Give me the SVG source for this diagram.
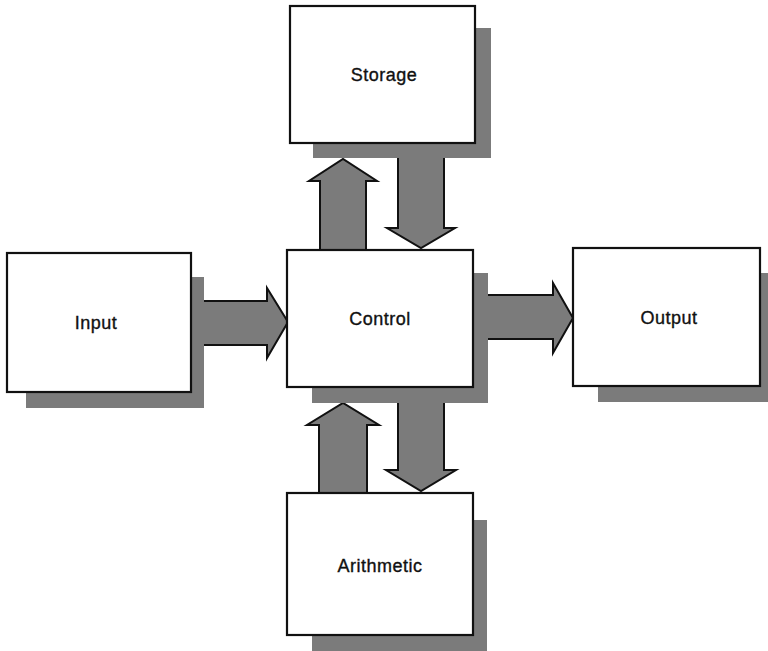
<svg xmlns="http://www.w3.org/2000/svg" width="768" height="651" viewBox="0 0 768 651">
<style>
.arrow{fill:#7b7b7b;stroke:#111;stroke-width:2;stroke-linejoin:miter}
.shadow{fill:#7b7b7b}
.box{fill:#fff;stroke:#111;stroke-width:2.2}
.label{font-family:"Liberation Sans",Arial,sans-serif;font-size:18px;fill:#111;stroke:#111;stroke-width:0.35;text-anchor:middle;letter-spacing:0.5px}
</style>
<rect width="768" height="651" fill="#fff"/>
<g id="connectors">
<polygon class="arrow" points="200,301 267,301 267,288 288,322 267,358 267,345 200,345"/>
<polygon class="arrow" points="480,295 553,295 553,283 573,318 553,353 553,339 480,339"/>
<polygon class="arrow" points="320,255 320,181 309,181 343,159 377,181 366,181 366,255"/>
<polygon class="arrow" points="398,150 444,150 444,228 455,228 421,248 387,228 398,228"/>
<polygon class="arrow" points="319,498 319,425 307,425 343,403 379,425 367,425 367,498"/>
<polygon class="arrow" points="398,395 444,395 444,470 456,470 421,491 386,470 398,470"/>
</g>
<g id="storage">
<rect class="shadow" x="313" y="28" width="178" height="130"/>
<rect class="box" x="290" y="6" width="185" height="137"/>
<text class="label" x="384" y="81">Storage</text>
</g>
<g id="input">
<rect class="shadow" x="26" y="277" width="178" height="131"/>
<rect class="box" x="7" y="253" width="184" height="139"/>
<text class="label" x="96" y="329">Input</text>
</g>
<g id="control">
<rect class="shadow" x="312" y="273" width="176" height="130"/>
<rect class="box" x="287" y="250" width="186" height="137"/>
<text class="label" x="380" y="325">Control</text>
</g>
<g id="output">
<rect class="shadow" x="598" y="273" width="170" height="129"/>
<rect class="box" x="573" y="248" width="187" height="138"/>
<text class="label" x="669" y="324">Output</text>
</g>
<g id="arithmetic">
<rect class="shadow" x="312" y="520" width="175" height="131"/>
<rect class="box" x="287" y="493" width="186" height="142"/>
<text class="label" x="380" y="572">Arithmetic</text>
</g>
</svg>
